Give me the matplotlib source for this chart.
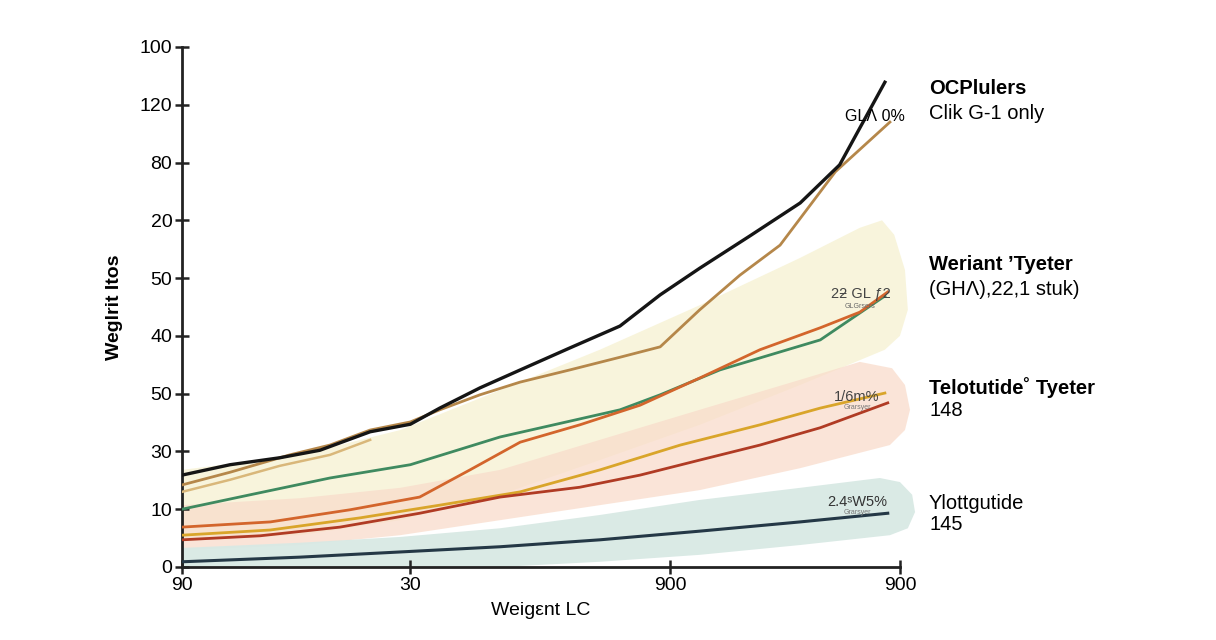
import numpy as np
import matplotlib
matplotlib.use("Agg")
import matplotlib.pyplot as plt

plt.rcParams['font.family'] = ['Liberation Sans', 'DejaVu Sans']

# axis ticks (odd labels kept as in the reference)
ytick_pos = [0, 1, 2, 3, 4, 5, 6, 7, 8, 9]
ytick_labels = ['0', '10', '30', '50', '40', '50', '20', '80', '120', '100']
xtick_pos = [0, 31.8, 68.0, 100]
xtick_labels = ['90', '30', '900', '900']

# series
black_x = [0, 6.7, 13.6, 19.2, 26.2, 31.8, 35.9, 41.5, 47.1, 54.0, 61.0, 66.6, 72.1, 79.1, 86.1, 91.6, 97.9]
black_y = [1.59, 1.77, 1.89, 2.02, 2.34, 2.47, 2.75, 3.10, 3.41, 3.79, 4.17, 4.71, 5.17, 5.73, 6.30, 6.96, 8.39]

brown_x = [0, 6.7, 15.0, 20.6, 26.2, 31.8, 35.9, 41.5, 47.1, 54.0, 61.0, 66.6, 72.1, 77.7, 83.3, 91.0, 98.6]
brown_y = [1.42, 1.64, 1.94, 2.11, 2.37, 2.51, 2.72, 2.98, 3.20, 3.41, 3.63, 3.81, 4.45, 5.05, 5.57, 6.84, 7.70]

tan_x = [0, 6.7, 13.6, 20.6, 26.2]
tan_y = [1.30, 1.51, 1.75, 1.94, 2.20]

green_x = [0, 9.5, 20.6, 31.8, 44.3, 61.0, 66.6, 74.9, 81.9, 88.9, 97.9]
green_y = [1.00, 1.25, 1.54, 1.77, 2.25, 2.72, 2.98, 3.41, 3.67, 3.93, 4.69]

orange_x = [0, 12.3, 23.4, 33.1, 40.1, 47.1, 55.4, 63.8, 72.1, 80.5, 88.9, 94.4, 98.3]
orange_y = [0.69, 0.78, 0.99, 1.21, 1.68, 2.16, 2.46, 2.80, 3.27, 3.76, 4.14, 4.41, 4.76]

gold_x = [0, 12.3, 24.8, 35.9, 47.1, 58.2, 69.4, 80.5, 88.9, 97.9]
gold_y = [0.55, 0.64, 0.85, 1.07, 1.30, 1.68, 2.11, 2.46, 2.75, 3.01]

red_x = [0, 10.9, 22.0, 33.1, 44.3, 55.4, 63.8, 72.1, 80.5, 88.9, 98.3]
red_y = [0.47, 0.54, 0.69, 0.93, 1.21, 1.38, 1.59, 1.85, 2.11, 2.41, 2.84]

navy_x = [0, 16.4, 30.4, 44.3, 58.2, 72.1, 86.1, 98.3]
navy_y = [0.09, 0.17, 0.26, 0.35, 0.47, 0.62, 0.78, 0.93]

# shaded band outlines (top edge, rounded cap, bottom edge back)
cream_x = [0, 16.4, 30.4, 44.3, 58.2, 72.1, 86.1, 94.4, 97.5, 99.2, 100.7, 101.1, 100.0, 97.9,
           86.1, 72.1, 58.2, 44.3, 30.4, 16.4, 0]
cream_y = [1.68, 1.94, 2.37, 3.06, 3.76, 4.53, 5.35, 5.87, 6.00, 5.75, 5.14, 4.45, 4.00, 3.76,
           3.15, 2.46, 1.85, 1.25, 0.81, 0.55, 0.47]
salmon_x = [0, 16.4, 30.4, 44.3, 58.2, 72.1, 86.1, 94.4, 98.9, 100.7, 101.4, 100.7, 98.6,
            86.1, 72.1, 58.2, 44.3, 30.4, 16.4, 0]
salmon_y = [1.07, 1.19, 1.37, 1.68, 2.20, 2.72, 3.24, 3.55, 3.44, 3.15, 2.72, 2.37, 2.11,
            1.71, 1.33, 1.07, 0.81, 0.55, 0.38, 0.29]
teal_x = [0, 16.4, 30.4, 44.3, 58.2, 72.1, 86.1, 97.2, 100.0, 101.7, 102.1, 101.1, 98.6,
          86.1, 72.1, 58.2, 44.3, 0]
teal_y = [0.33, 0.42, 0.52, 0.67, 0.90, 1.16, 1.37, 1.54, 1.47, 1.25, 0.95, 0.67, 0.55,
          0.38, 0.21, 0.09, 0.0, 0.0]

fig = plt.figure(figsize=(12.16, 6.4), dpi=100)
ax = fig.add_axes([0.1497, 0.1141, 0.5904, 0.8125])

ax.fill(cream_x, cream_y, color='#f7f3d6', alpha=0.85, lw=0, clip_on=False, zorder=1)
ax.fill(salmon_x, salmon_y, color='#f9dccb', alpha=0.75, lw=0, clip_on=False, zorder=1)
ax.fill(teal_x, teal_y, color='#d8e9e4', alpha=0.95, lw=0, clip_on=False, zorder=1)

ax.plot(tan_x, tan_y, color='#d9b77a', lw=1.8, zorder=3)
ax.plot(brown_x, brown_y, color='#b5874a', lw=2.0, zorder=3)
ax.plot(black_x, black_y, color='#151515', lw=2.4, zorder=4)
ax.plot(green_x, green_y, color='#3f8a60', lw=2.0, zorder=3)
ax.plot(orange_x, orange_y, color='#d3652c', lw=2.0, zorder=3)
ax.plot(gold_x, gold_y, color='#d9a52a', lw=2.0, zorder=3)
ax.plot(red_x, red_y, color='#b03b24', lw=2.0, zorder=3)
ax.plot(navy_x, navy_y, color='#243846', lw=2.2, zorder=3)

ax.set_xlim(0, 100)
ax.set_ylim(0, 9)
ax.set_yticks(ytick_pos)
ax.set_yticklabels(ytick_labels, fontsize=14)
ax.set_xticks(xtick_pos)
ax.set_xticklabels(xtick_labels, fontsize=14)
ax.tick_params(axis='both', direction='inout', length=10, width=1.8, color='#222222', pad=2)
for s in ['top', 'right']:
    ax.spines[s].set_visible(False)
for s in ['left', 'bottom']:
    ax.spines[s].set_linewidth(2.0)
    ax.spines[s].set_color('#222222')

ax.set_ylabel('Weglrit Itos', fontsize=14, fontweight='bold', labelpad=12)
ax.set_xlabel('Weigεnt LC', fontsize=14, labelpad=6)

# small labels near line ends
ax.text(96.5, 7.8, 'GLɅ 0%', fontsize=11.5, ha='center', va='center', zorder=5)
ax.text(94.5, 4.73, '2ƻ GL ƒ2', fontsize=10.5, ha='center', va='center', color='#444444', zorder=5)
ax.text(94.5, 4.50, 'GLGrsers', fontsize=5, ha='center', va='center', color='#666666', zorder=5)
ax.text(94.0, 2.95, '1/6m%', fontsize=10.5, ha='center', va='center', color='#444444', zorder=5)
ax.text(94.0, 2.76, 'Grarsyer', fontsize=5, ha='center', va='center', color='#777777', zorder=5)
ax.text(94.0, 1.13, '2.4ˢW5%', fontsize=10.5, ha='center', va='center', color='#333333', zorder=5)
ax.text(94.0, 0.94, 'Grarsyer', fontsize=5, ha='center', va='center', color='#777777', zorder=5)

# right-side legend-like text
fig.text(0.764, 0.862, 'OCPlulers', fontsize=14.5, fontweight='bold', va='center')
fig.text(0.764, 0.823, 'Clik G-1 only', fontsize=14.5, va='center')
fig.text(0.764, 0.586, 'Weriant ’Tyeter', fontsize=14.5, fontweight='bold', va='center')
fig.text(0.764, 0.547, '(GHɅ),22,1 stuk)', fontsize=14.5, va='center')
fig.text(0.764, 0.395, 'Telotutide˚ Tyeter', fontsize=14.5, fontweight='bold', va='center')
fig.text(0.764, 0.359, '148', fontsize=14.5, va='center')
fig.text(0.764, 0.214, 'Ylottgutide', fontsize=14.5, va='center')
fig.text(0.764, 0.180, '145', fontsize=14.5, va='center')

fig.savefig('out.png', dpi=100)
